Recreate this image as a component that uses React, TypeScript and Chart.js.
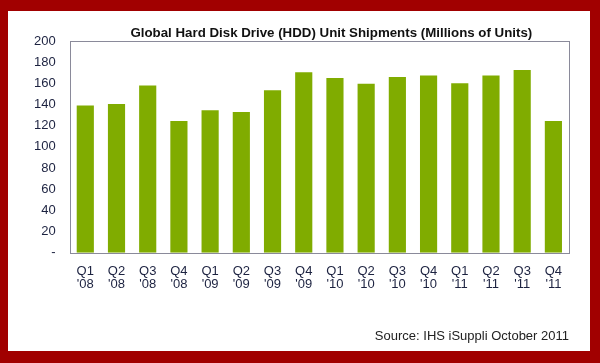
import React, { useEffect, useRef } from "react";
import { Chart, registerables } from "chart.js";

Chart.register(...registerables);

const quarters = ["Q1", "Q2", "Q3", "Q4", "Q1", "Q2", "Q3", "Q4", "Q1", "Q2", "Q3", "Q4", "Q1", "Q2", "Q3", "Q4"];
const years = ["'08", "'08", "'08", "'08", "'09", "'09", "'09", "'09", "'10", "'10", "'10", "'10", "'11", "'11", "'11", "'11"];
const shipments = [139, 140.5, 158, 124.5, 134.5, 133, 153.5, 170.5, 165, 159.5, 166, 167.5, 160, 167.5, 172.5, 124.5];
const yTicks = [0, 20, 40, 60, 80, 100, 120, 140, 160, 180, 200];

const TITLE = "Global Hard Disk Drive (HDD) Unit Shipments (Millions of Units)";
const SOURCE = "Source: IHS iSuppli October 2011";
const FONT = "Arial, 'Liberation Sans', sans-serif";

const frameBox = {
  id: "frameBox",
  afterDatasetsDraw(chart: any) {
    const { ctx, chartArea } = chart;
    ctx.save();
    ctx.strokeStyle = "#8a8a9a";
    ctx.lineWidth = 1;
    ctx.strokeRect(
      Math.round(chartArea.left) + 0.5,
      Math.round(chartArea.top) + 0.5,
      Math.round(chartArea.right - chartArea.left),
      Math.round(chartArea.bottom - chartArea.top)
    );
    // title, centred slightly right of the plot centre as in the reference
    ctx.fillStyle = "#111111";
    ctx.font = `bold 13.3px ${FONT}`;
    ctx.textAlign = "center";
    ctx.textBaseline = "middle";
    ctx.fillText(TITLE, (chartArea.left + chartArea.right) / 2 + 12, chartArea.top - 8);
    ctx.restore();
  },
};

export default function App() {
  const ref = useRef<HTMLCanvasElement | null>(null);

  useEffect(() => {
    if (!ref.current) return;
    const labels = quarters.map((q, i) => [q, years[i]]);
    const chart = new Chart(ref.current, {
      type: "bar",
      data: {
        labels,
        datasets: [
          {
            data: shipments,
            backgroundColor: "#80ac00",
            borderWidth: 0,
            categoryPercentage: 0.55,
            barPercentage: 1,
          },
        ],
      },
      options: {
        animation: false,
        responsive: false,
        layout: { padding: { left: 12, right: 21, top: 30, bottom: 0 } },
        plugins: {
          legend: { display: false },
          tooltip: { enabled: false },
          title: { display: false },
          subtitle: {
            display: true,
            text: SOURCE,
            position: "bottom",
            align: "end",
            color: "#222222",
            font: { family: FONT, size: 13 },
            padding: { top: 25, bottom: 7 },
          },
        },
        scales: {
          x: {
            grid: { display: false, drawTicks: false },
            border: { display: false },
            ticks: {
              color: "#1c2240",
              font: { family: FONT, size: 13, lineHeight: 0.95 },
              padding: 13,
              maxRotation: 0,
              autoSkip: false,
            },
          },
          y: {
            min: 0,
            max: 200,
            afterBuildTicks: (axis: any) => {
              axis.ticks = yTicks.map((v) => ({ value: v }));
            },
            grid: { display: false, drawTicks: false },
            border: { display: false },
            ticks: {
              color: "#1c2240",
              font: { family: FONT, size: 13 },
              padding: 14,
              callback: (v: any) => (Number(v) === 0 ? "-" : String(v)),
            },
          },
        },
      },
      plugins: [frameBox],
    });
    return () => chart.destroy();
  }, []);

  return (
    <div style={{ position: "fixed", left: 0, top: 0, width: 600, height: 363, background: "#a10000" }}>
      <div style={{ position: "absolute", left: 8, top: 11, width: 582, height: 340, background: "#ffffff" }}>
        <canvas ref={ref} width={582} height={340} style={{ display: "block" }} />
      </div>
    </div>
  );
}
